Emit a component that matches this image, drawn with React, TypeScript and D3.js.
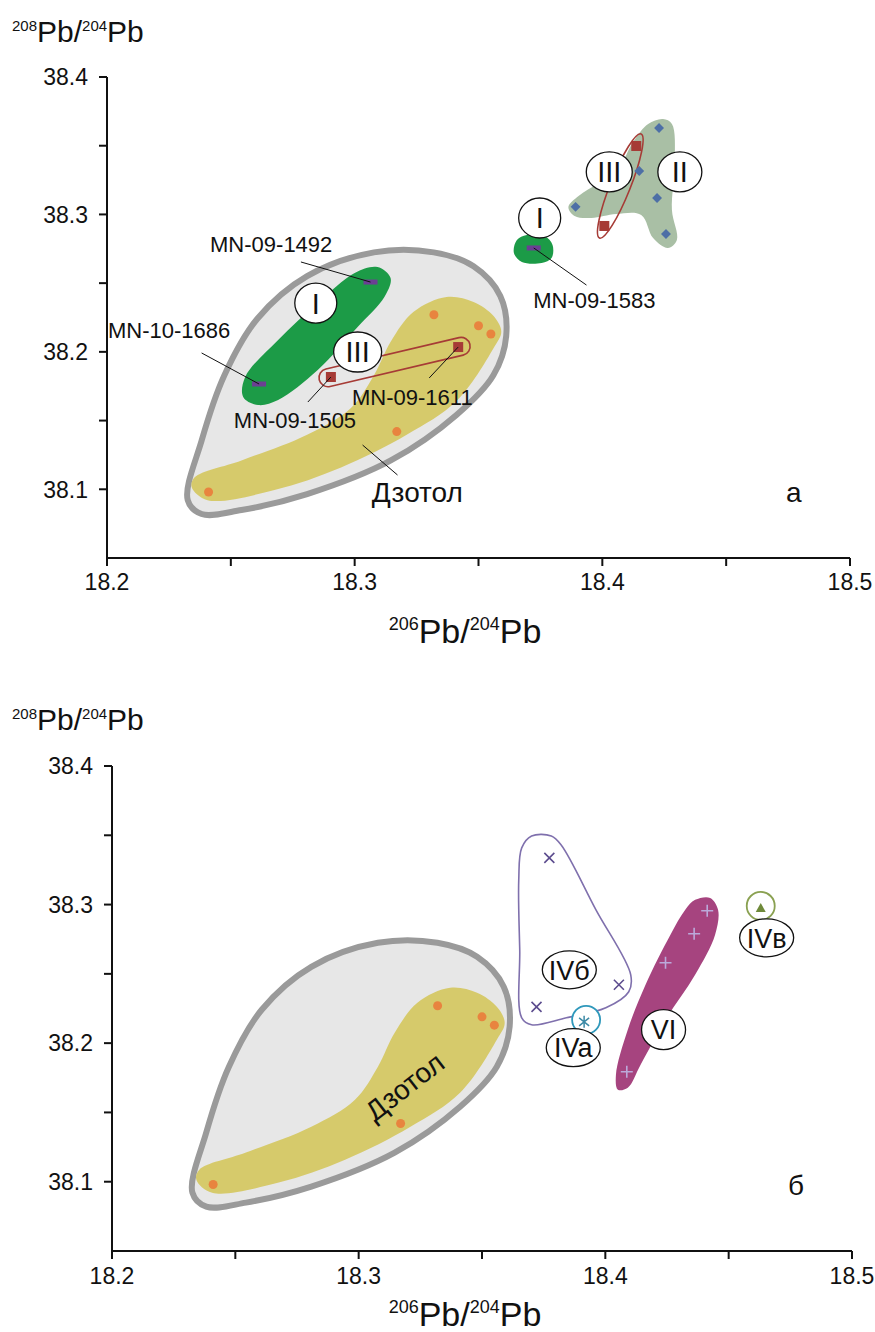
import React from 'react';
import * as d3 from 'd3';

type P = [number, number];

// ---------- axes ----------
const X_DOMAIN: P = [18.2, 18.5];
const Y_DOMAIN: P = [38.05, 38.4];
const xTickValues = [18.2, 18.25, 18.3, 18.35, 18.4, 18.45, 18.5];
const xTickLabels = ['18.2', '', '18.3', '', '18.4', '', '18.5'];
const yTickValues = [38.1, 38.15, 38.2, 38.25, 38.3, 38.35, 38.4];
const yTickLabels = ['38.1', '', '38.2', '', '38.3', '', '38.4'];

// ---------- data: samples ----------
const dzotolPts: P[] = [[18.241, 38.098], [18.317, 38.142], [18.332, 38.227], [18.350, 38.219], [18.355, 38.213]];
const groupIPts: P[] = [[18.3064, 38.2508], [18.2614, 38.1766], [18.3723, 38.2756]];
const groupIIIPts: P[] = [[18.2904, 38.1817], [18.3418, 38.2035], [18.4008, 38.2916], [18.4137, 38.3498]];
const groupIIPts: P[] = [[18.3892, 38.3055], [18.4149, 38.3316], [18.4221, 38.312], [18.4229, 38.3629], [18.4257, 38.2858]];
const groupIVbPts: P[] = [[18.3773, 38.3337], [18.4055, 38.2421], [18.3721, 38.2262]];
const groupIVaPts: P[] = [[18.3914, 38.2154]];
const groupVIPts: P[] = [[18.4413, 38.2955], [18.4360, 38.2789], [18.4244, 38.2580], [18.4087, 38.1794]];
const groupIVvPts: P[] = [[18.4630, 38.2976]];

// ---------- data: field outlines ----------
const grayField: P[] = [
  [18.2326, 38.0921], [18.2382, 38.1354], [18.2474, 38.1830], [18.2607, 38.2241], [18.2808, 38.2551],
  [18.3078, 38.2724], [18.3319, 38.2724], [18.3480, 38.2623], [18.3588, 38.2407], [18.3612, 38.2118],
  [18.3560, 38.1830], [18.3411, 38.1541], [18.3146, 38.1210], [18.2808, 38.0965], [18.2543, 38.0849],
  [18.2382, 38.0820],
];
const dzotolField: P[] = [
  [18.3371, 38.2399], [18.3238, 38.2291], [18.3146, 38.2075], [18.3078, 38.1830], [18.2985, 38.1592],
  [18.2808, 38.1397], [18.2543, 38.1210], [18.2354, 38.1087], [18.2342, 38.1015], [18.2406, 38.0921],
  [18.2676, 38.0994], [18.2945, 38.1159], [18.3210, 38.1397], [18.3411, 38.1642], [18.3560, 38.2025],
  [18.3592, 38.2147], [18.3560, 38.2262], [18.3480, 38.2363],
];
const groupIField: P[] = [
  [18.3092, 38.2617], [18.3145, 38.2537], [18.3120, 38.2399], [18.3012, 38.2181], [18.2851, 38.1868],
  [18.2691, 38.1650], [18.2610, 38.1613], [18.2550, 38.1672], [18.2558, 38.1817], [18.2691, 38.2086],
  [18.2851, 38.2355], [18.3000, 38.2574],
];
const groupIField2: P[] = [
  [18.3655, 38.2814], [18.3695, 38.2850], [18.3767, 38.2843], [18.3799, 38.2778], [18.3795, 38.2683],
  [18.3755, 38.2647], [18.3675, 38.2654], [18.3643, 38.2719],
];
const groupIIField: P[] = [
  [18.4245, 38.3694], [18.4281, 38.3658], [18.4293, 38.3396], [18.4281, 38.3032], [18.4301, 38.2814],
  [18.4265, 38.2756], [18.4205, 38.2828], [18.4157, 38.2996], [18.4056, 38.3003], [18.3956, 38.2974],
  [18.3888, 38.2988], [18.3863, 38.3054], [18.3904, 38.3134], [18.3984, 38.3229], [18.4068, 38.3345],
  [18.4124, 38.3527], [18.4185, 38.3658],
];
const groupIVbField: P[] = [
  [18.3661, 38.3409], [18.3701, 38.3495], [18.3781, 38.3495], [18.3821, 38.3430], [18.3962, 38.2962],
  [18.4103, 38.2493], [18.4095, 38.2371], [18.4002, 38.2255], [18.3842, 38.2183], [18.3701, 38.2133],
  [18.3661, 38.2183], [18.3653, 38.2673], [18.3649, 38.3178],
];
const groupVIField: P[] = [
  [18.4364, 38.3034], [18.4425, 38.3048], [18.4457, 38.2962], [18.4445, 38.2782], [18.4364, 38.2493],
  [18.4244, 38.2169], [18.4143, 38.1844], [18.4091, 38.1678], [18.4051, 38.1664], [18.4043, 38.1772],
  [18.4091, 38.2097], [18.4163, 38.2421], [18.4264, 38.2782], [18.4324, 38.2962],
];

// ---------- annotations (data units) ----------
const topSampleLabels = [
  { text: 'MN-09-1492', at: [18.2663, 38.2727] as P, anchor: 'middle', from: [18.3064, 38.2508] as P, to: [18.2783, 38.2654] as P },
  { text: 'MN-10-1686', at: [18.2004, 38.2101] as P, anchor: 'start', from: [18.2614, 38.1766] as P, to: [18.2382, 38.1992] as P },
  { text: 'MN-09-1505', at: [18.2759, 38.1446] as P, anchor: 'middle', from: [18.2904, 38.1817] as P, to: [18.2811, 38.1635] as P },
  { text: 'MN-09-1611', at: [18.3233, 38.1613] as P, anchor: 'middle', from: [18.3418, 38.2035] as P, to: [18.3301, 38.1810] as P },
  { text: 'MN-09-1583', at: [18.3968, 38.2319] as P, anchor: 'middle', from: [18.3723, 38.2756] as P, to: [18.3936, 38.2486] as P },
];
const topGroupLabels = [
  { text: 'I', at: [18.2843, 38.2355] as P, rx: 21, ry: 20 },
  { text: 'III', at: [18.3012, 38.1999] as P, rx: 24, ry: 20 },
  { text: 'I', at: [18.3747, 38.2974] as P, rx: 21, ry: 20 },
  { text: 'III', at: [18.4028, 38.3309] as P, rx: 23, ry: 20 },
  { text: 'II', at: [18.4313, 38.3309] as P, rx: 22, ry: 20 },
];
const bottomGroupLabels = [
  { text: 'IVб', at: [18.3854, 38.2529] as P, rx: 27, ry: 19 },
  { text: 'IVa', at: [18.3870, 38.1967] as P, rx: 27, ry: 19 },
  { text: 'VI', at: [18.4236, 38.2097] as P, rx: 22, ry: 20 },
  { text: 'IVв', at: [18.4654, 38.2760] as P, rx: 27, ry: 19 },
];

const panels = [
  { id: 'a', letter: 'а', xr: [107, 850], yr: [558, 77], yTitleY: 42, xTitleY: 643, tickLabelY: 590 },
  { id: 'b', letter: 'б', xr: [112, 852], yr: [1251, 766], yTitleY: 730, xTitleY: 1326, tickLabelY: 1284 },
];

const FONT = '"Liberation Sans", Arial, Helvetica, sans-serif';

const C = {
  grayFill: '#e7e7e7', grayStroke: '#9a9a9a', yellow: '#d6ca6b', orange: '#e8843f',
  green: '#1c9b47', purpleDash: '#6b3f93', red: '#a63b36', sage: '#a9bfa5', blue: '#4d6fa6',
  ivb: '#7f70ad', cross: '#5c4c8e', plus: '#bba9da', teal: '#2f98bb', magenta: '#a6447f', olive: '#8aa151',
};

function Panel({ p }: { p: typeof panels[0] }) {
  const x = d3.scaleLinear().domain(X_DOMAIN).range(p.xr);
  const y = d3.scaleLinear().domain(Y_DOMAIN).range(p.yr);
  const area = d3.line<P>().x(d => x(d[0])).y(d => y(d[1])).curve(d3.curveCatmullRomClosed.alpha(0.5));
  const ax = p.xr[0];
  const ay = p.yr[0];

  const capsule = (a: P, b: P, pad: number, hw: number, ellipse: boolean, key: string) => {
    const x1 = x(a[0]), y1 = y(a[1]), x2 = x(b[0]), y2 = y(b[1]);
    const cx = (x1 + x2) / 2, cy = (y1 + y2) / 2;
    const len = Math.hypot(x2 - x1, y2 - y1) + 2 * pad;
    const ang = (Math.atan2(y2 - y1, x2 - x1) * 180) / Math.PI;
    return ellipse ? (
      <ellipse key={key} cx={0} cy={0} rx={len / 2} ry={hw} transform={`translate(${cx},${cy}) rotate(${ang})`} fill="none" stroke={C.red} strokeWidth={1.6} />
    ) : (
      <rect key={key} x={-len / 2} y={-hw} width={len} height={hw * 2} rx={hw} transform={`translate(${cx},${cy}) rotate(${ang})`} fill="none" stroke={C.red} strokeWidth={1.6} />
    );
  };

  const groupLabel = (g: { text: string; at: P; rx: number; ry: number }, i: number) => (
    <g key={'gl' + i}>
      <ellipse cx={x(g.at[0])} cy={y(g.at[1])} rx={g.rx} ry={g.ry} fill="#fff" stroke="#111" strokeWidth={1.3} />
      <text x={x(g.at[0])} y={y(g.at[1])} dy="0.36em" textAnchor="middle" fontSize={g.text.startsWith('IV') || g.text === 'VI' ? 27 : 29} fontFamily={FONT} fill="#111">{g.text}</text>
    </g>
  );

  return (
    <g>
      {/* fields */}
      <path d={area(grayField) || ''} fill={C.grayFill} stroke={C.grayStroke} strokeWidth={6} strokeLinejoin="round" />
      <path d={area(dzotolField) || ''} fill={C.yellow} />
      {p.id === 'a' && (
        <g>
          <path d={area(groupIField) || ''} fill={C.green} />
          <path d={area(groupIField2) || ''} fill={C.green} />
          <path d={area(groupIIField) || ''} fill={C.sage} />
          {capsule(groupIIIPts[0], groupIIIPts[1], 12, 9, false, 'c1')}
          {capsule(groupIIIPts[2], groupIIIPts[3], 13, 10, true, 'c2')}
        </g>
      )}
      {p.id === 'b' && (
        <g>
          <path d={area(groupIVbField) || ''} fill="none" stroke={C.ivb} strokeWidth={1.6} />
          <path d={area(groupVIField) || ''} fill={C.magenta} />
          <circle cx={x(groupIVaPts[0][0]) + 2} cy={y(groupIVaPts[0][1]) - 2} r={14} fill="#fff" stroke={C.teal} strokeWidth={1.8} />
          <circle cx={x(groupIVvPts[0][0])} cy={y(groupIVvPts[0][1]) - 2} r={14} fill="#fff" stroke={C.olive} strokeWidth={1.8} />
        </g>
      )}

      {/* points */}
      {dzotolPts.map((d, i) => <circle key={'dz' + i} cx={x(d[0])} cy={y(d[1])} r={4.5} fill={C.orange} />)}
      {p.id === 'a' && (
        <g>
          {groupIPts.map((d, i) => <rect key={'gi' + i} x={x(d[0]) - 7} y={y(d[1]) - 2.5} width={14} height={5} fill={C.purpleDash} />)}
          {groupIIIPts.map((d, i) => <rect key={'giii' + i} x={x(d[0]) - 5} y={y(d[1]) - 5} width={10} height={10} fill={C.red} />)}
          {groupIIPts.map((d, i) => (
            <rect key={'gii' + i} x={-3.5} y={-3.5} width={7} height={7} fill={C.blue} transform={`translate(${x(d[0])},${y(d[1])}) rotate(45)`} />
          ))}
        </g>
      )}
      {p.id === 'b' && (
        <g>
          {groupIVbPts.map((d, i) => (
            <path key={'ivb' + i} d="M-5,-5L5,5M-5,5L5,-5" transform={`translate(${x(d[0])},${y(d[1])})`} stroke={C.cross} strokeWidth={1.6} />
          ))}
          {groupVIPts.map((d, i) => (
            <path key={'vi' + i} d="M-6,0L6,0M0,-6L0,6" transform={`translate(${x(d[0])},${y(d[1])})`} stroke={C.plus} strokeWidth={1.6} />
          ))}
          {groupIVaPts.map((d, i) => (
            <path key={'iva' + i} d="M-5,-4L5,4M-5,4L5,-4M0,-6L0,6" transform={`translate(${x(d[0])},${y(d[1])})`} stroke="#3d8aa6" strokeWidth={1.5} />
          ))}
          {groupIVvPts.map((d, i) => (
            <path key={'ivv' + i} d="M0,-5L5,4L-5,4Z" transform={`translate(${x(d[0])},${y(d[1])})`} fill="#6f8a3a" />
          ))}
        </g>
      )}

      {/* annotations */}
      {p.id === 'a' && (
        <g>
          {topSampleLabels.map((s, i) => (
            <g key={'sl' + i}>
              <line x1={x(s.from[0])} y1={y(s.from[1])} x2={x(s.to[0])} y2={y(s.to[1])} stroke="#111" strokeWidth={1} />
              <text x={x(s.at[0])} y={y(s.at[1])} textAnchor={s.anchor as any} fontSize={22} fontFamily={FONT} fill="#111">{s.text}</text>
            </g>
          ))}
          <line x1={x(18.3032)} y1={y(38.1322)} x2={x(18.3173)} y2={y(38.1104)} stroke="#111" strokeWidth={1} />
          <text x={x(18.3253)} y={y(38.0907)} textAnchor="middle" fontSize={28} fontFamily={FONT} fill="#111">Дзотол</text>
          {topGroupLabels.map(groupLabel)}
        </g>
      )}
      {p.id === 'b' && (
        <g>
          <text transform={`translate(${x(18.3186)},${y(38.1686)}) rotate(-38)`} dy="0.35em" textAnchor="middle" fontSize={28} fontFamily={FONT} fill="#111">Дзотол</text>
          {bottomGroupLabels.map(groupLabel)}
        </g>
      )}
      <text x={x(18.4773)} y={y(38.0907)} textAnchor="middle" fontSize={28} fontFamily={FONT} fill="#111">{p.letter}</text>

      {/* axes */}
      <line x1={ax} y1={ay} x2={p.xr[1]} y2={ay} stroke="#111" strokeWidth={2} />
      <line x1={ax} y1={ay} x2={ax} y2={p.yr[1]} stroke="#111" strokeWidth={2} />
      {xTickValues.map((v, i) => (
        <g key={'xt' + i}>
          <line x1={x(v)} x2={x(v)} y1={ay} y2={ay + 8} stroke="#111" strokeWidth={2} />
          {xTickLabels[i] && <text x={x(v)} y={p.tickLabelY} textAnchor="middle" fontSize={23} fontFamily={FONT} fill="#111">{xTickLabels[i]}</text>}
        </g>
      ))}
      {yTickValues.map((v, i) => (
        <g key={'yt' + i}>
          <line x1={ax - 8} x2={ax} y1={y(v)} y2={y(v)} stroke="#111" strokeWidth={2} />
          {yTickLabels[i] && <text x={ax - 19} y={y(v)} dy="0.36em" textAnchor="end" fontSize={23} fontFamily={FONT} fill="#111">{yTickLabels[i]}</text>}
        </g>
      ))}
      {/* titles */}
      <text x={12} y={p.yTitleY} fontSize={30} fontFamily={FONT} fill="#111">
        <tspan fontSize={15} dy={-11}>208</tspan>
        <tspan dy={11}>Pb/</tspan>
        <tspan fontSize={15} dy={-11}>204</tspan>
        <tspan dy={11}>Pb</tspan>
      </text>
      <text x={465} y={p.xTitleY} textAnchor="middle" fontSize={34} fontFamily={FONT} fill="#111">
        <tspan fontSize={18} dy={-13}>206</tspan>
        <tspan dy={13}>Pb/</tspan>
        <tspan fontSize={18} dy={-13}>204</tspan>
        <tspan dy={13}>Pb</tspan>
      </text>
    </g>
  );
}

export default function App() {
  return (
    <svg width={875} height={1332} style={{ position: 'absolute', left: 0, top: 0, background: '#fff' }}>
      <rect width={875} height={1332} fill="#fff" />
      {panels.map(p => <Panel key={p.id} p={p} />)}
    </svg>
  );
}
